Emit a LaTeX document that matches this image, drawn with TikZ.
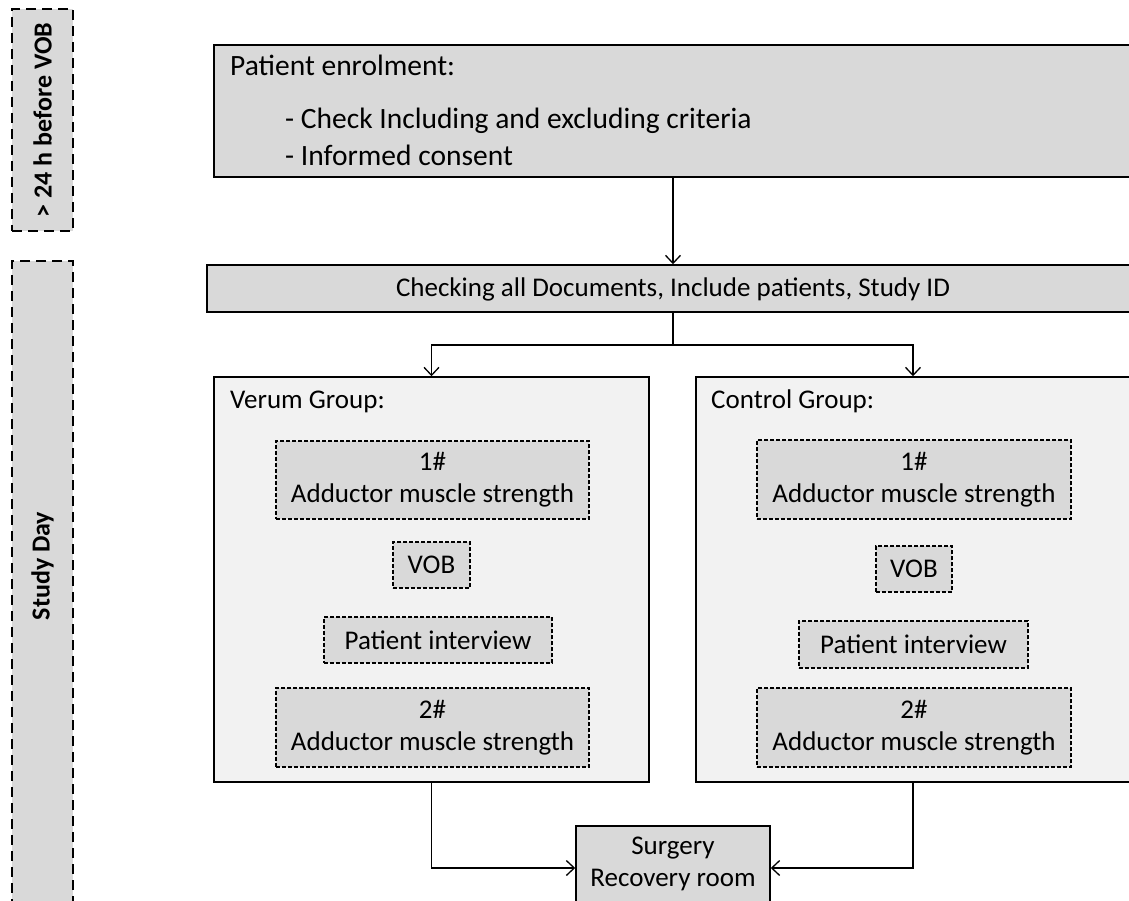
\documentclass[tikz,border=0pt]{standalone}
\usepackage{fontspec}
\setmainfont{Carlito}
\usetikzlibrary{arrows.meta}
\definecolor{boxgray}{HTML}{D9D9D9}
\definecolor{grpgray}{HTML}{F2F2F2}
\begin{document}
\begin{tikzpicture}[x=1pt,y=-1pt,
  box/.style={draw, line width=1.5pt, fill=boxgray, inner sep=0pt},
  grp/.style={draw, line width=1.5pt, fill=grpgray, inner sep=0pt},
  dbox/.style={draw, line width=1.3pt, dash pattern=on 4pt off 2pt, fill=boxgray, inner sep=0pt, align=center, font=\fontsize{27}{32}\selectfont},
  sidebox/.style={draw, line width=2pt, dash pattern=on 10pt off 6pt, fill=boxgray, inner sep=0pt},
  sidetxt/.style={inner sep=0pt, rotate=90, font=\bfseries\fontsize{26}{30}\selectfont},
  txt/.style={inner sep=0pt, font=\fontsize{27}{32}\selectfont},
  bigtxt/.style={inner sep=0pt, font=\fontsize{29.5}{34}\selectfont},
  arr/.style={line width=1.3pt, -{Straight Barb[length=8pt,width=15pt,line width=1.3pt]}}
]
\clip (0,0) rectangle (1129,901);
\fill[white] (0,0) rectangle (1129,901);

% side labels
\node[sidebox, minimum width=61, minimum height=222] (side1) at (42.5,120) {};
\node[sidetxt] (side1t) at (side1.center) {> 24 h before VOB};
\node[sidebox, minimum width=61, minimum height=680] (side2) at (42.5,601) {};
\node[sidetxt] (side2t) at (42.5,566) {Study Day};

% enrolment
\node[box, minimum width=926, minimum height=132] (enrol) at (677,111) {};
\node[bigtxt, anchor=base west] (enrol1) at (230,76) {Patient enrolment:};
\node[bigtxt, anchor=base west] (enrol2) at (285,129) {- Check Including and excluding criteria};
\node[bigtxt, anchor=base west] (enrol3) at (285,166) {- Informed consent};

% checking
\node[box, minimum width=933, minimum height=47] (chk) at (673.5,288.5) {};
\node[txt] (chkt) at (673,289) {Checking all Documents, Include patients, Study ID};

% groups
\node[grp, minimum width=435, minimum height=405] (verum) at (431.5,579.5) {};
\node[txt, anchor=base west] (verumt) at (230,408) {Verum Group:};
\node[grp, minimum width=434, minimum height=405] (control) at (913,579.5) {};
\node[txt, anchor=base west] (controlt) at (711,408) {Control Group:};

% verum inner
\node[dbox, minimum width=313, minimum height=78] (v1) at (432.5,480) {1\#\\Adductor muscle strength};
\node[dbox, minimum width=77, minimum height=46] (vv) at (431.5,565) {VOB};
\node[dbox, minimum width=228, minimum height=46] (vp) at (438,640) {Patient interview};
\node[dbox, minimum width=313, minimum height=79] (v2) at (432.5,727.5) {2\#\\Adductor muscle strength};

% control inner
\node[dbox, minimum width=314, minimum height=79] (c1) at (914,479.5) {1\#\\Adductor muscle strength};
\node[dbox, minimum width=76, minimum height=46] (cv) at (914,569) {VOB};
\node[dbox, minimum width=229, minimum height=47] (cp) at (913.5,644.5) {Patient interview};
\node[dbox, minimum width=314, minimum height=79] (c2) at (914,727.5) {2\#\\Adductor muscle strength};

% surgery
\node[box, minimum width=194, minimum height=84] (surg) at (673,868) {};
\node[txt, align=center] (surgt) at (673,864) {Surgery\\Recovery room};

% connectors
\coordinate (cx) at (673,0);
\draw[arr] (enrol.south -| cx) -- (chk.north -| cx);
\coordinate (split) at (673,345);
\draw[line width=1.3pt] (chk.south -| cx) -- (split);
\draw[arr] (split) -| (verum.north);
\draw[arr] (split) -| (control.north);
\draw[arr] (verum.south) |- (surg.west);
\draw[arr] (control.south) |- (surg.east);
\end{tikzpicture}
\end{document}
